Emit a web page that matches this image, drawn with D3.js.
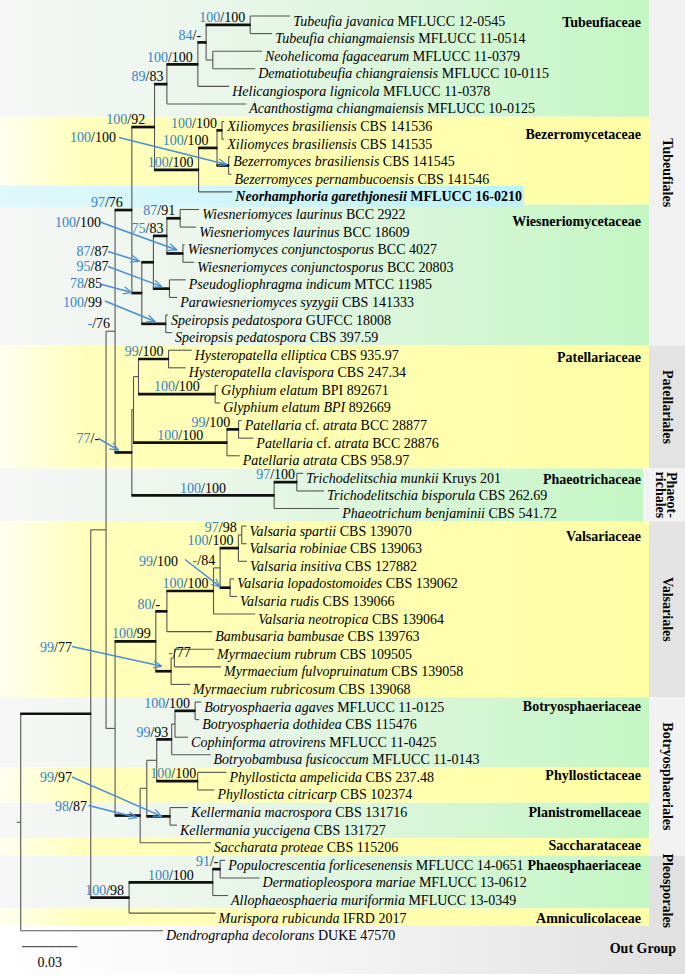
<!DOCTYPE html>
<html><head><meta charset="utf-8">
<script src="https://cdn.jsdelivr.net/npm/d3@7"></script>
<style>body{margin:0;background:#fff} svg{display:block}</style>
</head><body><svg id="c" width="685" height="977"></svg>
<script>
// ---------------- DATA ----------------
// leaf labels in tree order (text between underscores is italic)
const taxa = [
 "_Tubeufia javanica_ MFLUCC 12-0545",
 "_Tubeufia chiangmaiensis_ MFLUCC 11-0514",
 "_Neohelicoma fagacearum_ MFLUCC 11-0379",
 "_Dematiotubeufia chiangraiensis_ MFLUCC 10-0115",
 "_Helicangiospora lignicola_ MFLUCC 11-0378",
 "_Acanthostigma chiangmaiensis_ MFLUCC 10-0125",
 "_Xiliomyces brasiliensis_ CBS 141536",
 "_Xiliomyces brasiliensis_ CBS 141535",
 "_Bezerromyces brasiliensis_ CBS 141545",
 "_Bezerromyces pernambucoensis_ CBS 141546",
 "_Neorhamphoria garethjonesii_ MFLUCC 16-0210",
 "_Wiesneriomyces laurinus_ BCC 2922",
 "_Wiesneriomyces laurinus_ BCC 18609",
 "_Wiesneriomyces conjunctosporus_ BCC 4027",
 "_Wiesneriomyces conjunctosporus_ BCC 20803",
 "_Pseudogliophragma indicum_ MTCC 11985",
 "_Parawiesneriomyces syzygii_ CBS 141333",
 "_Speiropsis pedatospora_ GUFCC 18008",
 "_Speiropsis pedatospora_ CBS 397.59",
 "_Hysteropatella elliptica_ CBS 935.97",
 "_Hysteropatella clavispora_ CBS 247.34",
 "_Glyphium elatum_ BPI 892671",
 "_Glyphium elatum BPI_ 892669",
 "_Patellaria_ cf. _atrata_ BCC 28877",
 "_Patellaria_ cf. _atrata_ BCC 28876",
 "_Patellaria atrata_ CBS 958.97",
 "_Trichodelitschia munkii_ Kruys 201",
 "_Trichodelitschia bisporula_ CBS 262.69",
 "_Phaeotrichum benjaminii_ CBS 541.72",
 "_Valsaria spartii_ CBS 139070",
 "_Valsaria robiniae_ CBS 139063",
 "_Valsaria insitiva_ CBS 127882",
 "_Valsaria lopadostomoides_ CBS 139062",
 "_Valsaria rudis_ CBS 139066",
 "_Valsaria neotropica_ CBS 139064",
 "_Bambusaria bambusae_ CBS 139763",
 "_Myrmaecium rubrum_ CBS 109505",
 "_Myrmaecium fulvopruinatum_ CBS 139058",
 "_Myrmaecium rubricosum_ CBS 139068",
 "_Botryosphaeria agaves_ MFLUCC 11-0125",
 "_Botryosphaeria dothidea_ CBS 115476",
 "_Cophinforma atrovirens_ MFLUCC 11-0425",
 "_Botryobambusa fusicoccum_ MFLUCC 11-0143",
 "_Phyllosticta ampelicida_ CBS 237.48",
 "_Phyllosticta citricarp_ CBS 102374",
 "_Kellermania macrospora_ CBS 131716",
 "_Kellermania yuccigena_ CBS 131727",
 "_Saccharata proteae_ CBS 115206",
 "_Populocrescentia forlicesenensis_ MFLUCC 14-0651",
 "_Dermatiopleospora mariae_ MFLUCC 13-0612",
 "_Allophaeosphaeria muriformia_ MFLUCC 13-0349",
 "_Murispora rubicunda_ IFRD 2017",
 "_Dendrographa decolorans_ DUKE 47570"
];
const newTaxa = [11]; // new species (bold)

// tree: [id, parent, branch length (subst./site), support ML/MP, high posterior probability]
const nodes = [
 ["root","",0,"",false],
 ["ingroup","root",0.0380,"",true],
 ["N106","ingroup",0.0083,"",false],
 ["N115a","N106",0.0049,"-/76",false],
 ["T","N115a",0.0091,"97/76",true],
 ["N154","T",0.0123,"100/92",true],
 ["TU","N154",0.0067,"89/83",true],
 ["N197","TU",0.0168,"100/100",true],
 ["N206","N197",0.0045,"84/-",true],
 ["N250","N206",0.0239,"100/100",true],
 ["L1","N250",0.0217,"",false],
 ["L2","N250",0.0119,"",false],
 ["N212","N206",0.0036,"",false],
 ["L3","N212",0.0267,"",false],
 ["L4","N212",0.0230,"",false],
 ["L5","N197",0.0170,"",false],
 ["L6","TU",0.0430,"",false],
 ["Bz","N154",0.0239,"100/100",true],
 ["N216","Bz",0.0100,"100/100",true],
 ["Xil","N216",0.0027,"100/100",true],
 ["L7","Xil",0.0012,"",false],
 ["L8","Xil",0.0012,"",false],
 ["Bez","N216",0.0063,"100/100",true],
 ["L9","Bez",0.0009,"",false],
 ["L10","Bez",0.0015,"",false],
 ["L11","Bz",0.0183,"",false],
 ["W","T",0.0054,"78/85",true],
 ["N153","W",0.0063,"87/87",true],
 ["N166b","N153",0.0073,"75/83",true],
 ["N180","N166b",0.0072,"87/91",true],
 ["L12","N180",0.0103,"",false],
 ["L13","N180",0.0087,"",false],
 ["N182","N166b",0.0087,"100/100",true],
 ["L14","N182",0.0010,"",false],
 ["L15","N182",0.0061,"",false],
 ["N169","N153",0.0087,"95/87",true],
 ["L16","N169",0.0088,"",false],
 ["L17","N169",0.0042,"",false],
 ["Spe","W",0.0130,"100/99",true],
 ["L18","Spe",0.0012,"",false],
 ["L19","Spe",0.0034,"",false],
 ["PP","N115a",0.0091,"77/-",true],
 ["N133","PP",0.0009,"",false],
 ["N138","N133",0.0027,"",false],
 ["Hys","N138",0.0163,"99/100",true],
 ["L20","Hys",0.0126,"",false],
 ["L21","Hys",0.0093,"",false],
 ["Gly","N138",0.0416,"100/100",true],
 ["L22","Gly",0.0016,"",false],
 ["L23","Gly",0.0027,"",false],
 ["Pat","N133",0.0507,"100/100",true],
 ["PatCf","Pat",0.0063,"99/100",true],
 ["L24","PatCf",0.0017,"",false],
 ["L25","PatCf",0.0080,"",false],
 ["L26","Pat",0.0069,"",false],
 ["Pht","PP",0.0772,"100/100",true],
 ["Tri","Pht",0.0123,"97/100",true],
 ["L27","Tri",0.0034,"",false],
 ["L28","Tri",0.0148,"",false],
 ["L29","Pht",0.0353,"",false],
 ["N115b","N106",0.0049,"",false],
 ["V","N115b",0.0221,"100/99",true],
 ["N166c","V",0.0060,"80/-",true],
 ["N213","N166c",0.0253,"100/100",true],
 ["N220","N213",0.0036,"-/84",false],
 ["N238","N220",0.0099,"100/100",true],
 ["N241","N238",0.0018,"97/98",false],
 ["L30","N241",0.0026,"",false],
 ["L31","N241",0.0026,"",false],
 ["L32","N238",0.0047,"",false],
 ["N230","N220",0.0054,"99/100",true],
 ["L33","N230",0.0022,"",false],
 ["L34","N230",0.0038,"",false],
 ["L35","N213",0.0226,"",false],
 ["L36","N166c",0.0246,"",false],
 ["Myr","V",0.0083,"99/77",true],
 ["N174","Myr",0.0018,"-/77",false],
 ["L37","N174",0.0215,"",false],
 ["L38","N174",0.0253,"",false],
 ["L39","Myr",0.0103,"",false],
 ["B","N115b",0.0136,"98/87",true],
 ["N146","B",0.0036,"",false],
 ["N156","N146",0.0054,"",false],
 ["Bot","N156",0.0081,"99/93",true],
 ["N175","Bot",0.0018,"",false],
 ["Bdo","N175",0.0109,"100/100",true],
 ["L40","Bdo",0.0033,"",false],
 ["L41","Bdo",0.0022,"",false],
 ["L42","N175",0.0071,"",false],
 ["L43","Bot",0.0211,"",false],
 ["Phy","N156",0.0222,"100/100",true],
 ["L44","Phy",0.0156,"",false],
 ["L45","Phy",0.0091,"",false],
 ["Kel","N146",0.0126,"99/97",true],
 ["L46","Kel",0.0098,"",false],
 ["L47","Kel",0.0038,"",false],
 ["L48","B",0.0383,"",false],
 ["Ple","ingroup",0.0208,"100/98",true],
 ["Phs","Ple",0.0454,"100/100",true],
 ["N220b","Phs",0.0040,"91/-",true],
 ["L49","N220b",0.0027,"",false],
 ["L50","N220b",0.0214,"",false],
 ["L51","Phs",0.0083,"",false],
 ["L52","Ple",0.0469,"",false],
 ["L53","root",0.0772,"",false]
];

const families = ["Tubeufiaceae","Bezerromycetaceae","Wiesneriomycetaceae","Patellariaceae","Phaeotrichaceae","Valsariaceae","Botryosphaeriaceae","Phyllostictaceae","Planistromellaceae","Saccharataceae","Phaeosphaeriaceae","Amniculicolaceae"];
const familyFirst = [1,7,12,20,27,30,40,44,46,48,49,52];
const familyLast  = [6,11,19,26,29,39,43,45,47,48,51,52];

const orders = ["Tubeufiales","Patellariales","Phaeotrichales","Valsariales","Botryosphaeriales","Pleosporales"];
const orderFirst = [1,20,27,30,40,49];
const orderLast  = [19,26,29,39,48,52];
const outGroup = "Out Group";
const scaleBarValue = 0.03;

// ---------------- LAYOUT / STYLE ----------------
const FONT = "'Liberation Serif','Times New Roman',serif";
const BLUE = "#3483c8", ARROW = "#4b8fd1", LINE = "#555", THICK = "#111";
const svg = d3.select("#c");
const defs = svg.append("defs");
function grad(id, stops){
  const g = defs.append("linearGradient").attr("id",id).attr("x1",0).attr("x2",1).attr("y1",0).attr("y2",0);
  stops.forEach(([o,c]) => g.append("stop").attr("offset",o).attr("stop-color",c));
}
grad("gG",[[0,"#f6f6f6"],[0.3,"#ecf6ec"],[1,"#c4f6c4"]]);
grad("gY",[[0,"#fffff0"],[0.13,"#ffffbc"],[1,"#ffffa6"]]);
grad("gC",[[0,"#dff8fa"],[1,"#bef2f7"]]);
grad("gO",[[0,"#ffffff"],[0.5,"#f4f4f4"],[1,"#e0e0e0"]]);
defs.append("marker").attr("id","ah").attr("viewBox","0 0 10 10").attr("refX",9.5).attr("refY",5)
  .attr("markerWidth",9).attr("markerHeight",9).attr("markerUnits","userSpaceOnUse").attr("orient","auto")
  .append("path").attr("d","M0,1 L9.5,5 L0,9").attr("fill","none").attr("stroke",ARROW).attr("stroke-width",1.4);

// tree hierarchy
const table = nodes.map(([id,parent,len,support,pp]) => ({id,parent,len,support,pp}));
const root = d3.stratify().id(d=>d.id).parentId(d=>d.parent===""?null:d.parent)(table);
root.eachBefore(n => n.dist = n.parent ? n.parent.dist + n.data.len : 0);
const leaves = root.leaves();
const x = d3.scaleLinear().domain([0, scaleBarValue]).range([20.7, 76.0]);
const y = d3.scalePoint().domain(leaves.map(d=>d.id)).range([16, 930.7]);
root.eachAfter(n => {
  n.px = x(n.dist);
  n.py = n.children ? (n.children[0].py + n.children[n.children.length-1].py)/2 : y(n.id);
});
const leafY = i => y("L"+i);

// backgrounds: families
const bandTop = i => i===0 ? 0 : leafY(familyLast[i-1]) + 12.8;
const bandBot = i => leafY(familyLast[i]) + 12.8;
const bg = svg.append("g");
families.forEach((f,i) => {
  const right = f==="Phaeotrichaceae" ? 643 : 649;
  bg.append("rect").attr("x",0).attr("y",bandTop(i)).attr("width",right).attr("height",bandBot(i)-bandTop(i))
    .attr("fill", i%2===0 ? "url(#gG)" : "url(#gY)");
});
// out group band
const ogTop = leafY(familyLast[familyLast.length-1]) + 12.8;
bg.append("rect").attr("x",0).attr("y",ogTop).attr("width",685).attr("height",974-ogTop).attr("fill","url(#gO)");
// orders column
const orderFill = ["#f1f1f1","#e3e3e3","#f3f3f3","#e3e3e3","#f2f2f2","#e1e1e1"];
const ordTop = i => i===0 ? 0 : leafY(orderLast[i-1]) + 12.8;
const ordBot = i => leafY(orderLast[i]) + 12.8;
orders.forEach((o,i) => {
  const left = o==="Phaeotrichales" ? 643 : 649;
  bg.append("rect").attr("x",left).attr("y",ordTop(i)).attr("width",685-left).attr("height",ordBot(i)-ordTop(i)).attr("fill",orderFill[i]);
});

// highlight row (cyan) for the new species - width set after text measure
const hl = bg.append("g");

// tree lines
const g = svg.append("g");
const all = root.descendants();
// verticals
g.selectAll("line.v").data(all.filter(n=>n.children)).join("line")
  .attr("x1",d=>d.px).attr("x2",d=>d.px)
  .attr("y1",d=>d.children[0].py).attr("y2",d=>d.children[d.children.length-1].py)
  .attr("stroke",LINE).attr("stroke-width",1.1);
// thin horizontals
g.selectAll("line.h").data(all.filter(n=>n.parent && !n.data.pp)).join("line")
  .attr("x1",d=>d.parent.px).attr("x2",d=>d.px).attr("y1",d=>d.py).attr("y2",d=>d.py)
  .attr("stroke",LINE).attr("stroke-width",1.1);
// thick horizontals
g.append("g").selectAll("line").data(all.filter(n=>n.parent && n.data.pp)).join("line")
  .attr("x1",d=>d.parent.px-0.5).attr("x2",d=>d.px+0.5).attr("y1",d=>d.py).attr("y2",d=>d.py)
  .attr("stroke",THICK).attr("stroke-width",2.7);
// root stub
g.append("line").attr("x1",root.px-4).attr("x2",root.px).attr("y1",root.py).attr("y2",root.py).attr("stroke",LINE).attr("stroke-width",1.1);

// taxon labels
function richText(sel, s){
  s.split("_").forEach((part,i) => {
    if(!part) return;
    sel.append("tspan").attr("font-style", i%2===1 ? "italic" : "normal").text(part);
  });
}
const lab = svg.append("g").attr("font-family",FONT).attr("font-size",14).attr("fill","#000");
leaves.forEach((lf,i) => {
  const t = lab.append("text").attr("x",lf.px+3).attr("y",lf.py+9.5);
  if(newTaxa.includes(i+1)) t.attr("font-weight","bold");
  richText(t, taxa[i]);
  if(newTaxa.includes(i+1)){
    const bb = t.node().getBBox();
    hl.append("rect").attr("x",0).attr("y",lf.py-6.2).attr("width",bb.x+bb.width+2).attr("height",21).attr("fill","url(#gC)");
  }
});

// support labels
const endOffset = {N154:-9.3, T:-9, N216:-8.4, PatCf:-8.3, N166c:-6.7, TU:-3.4, N166b:-3.4, Bot:-3.4, Phy:-1.5, Tri:-1.7, N220b:-1.7};
const arrowLabels = {
  Bez:  {tx:70,  ty:141.5, ax:119, ay:137.5, dx:-2,   dy:-1},
  N182: {tx:55,  ty:227,   ax:100, ay:222,   dx:-6,   dy:-3.5},
  N153: {tx:76.5,ty:256,   ax:108, ay:251.5, dx:-14,  dy:-1},
  N169: {tx:76.5,ty:271,   ax:108, ay:266.5, dx:-7.6, dy:-2},
  W:    {tx:70,  ty:288.3, ax:100, ay:284,   dx:-10,  dy:-0.5},
  Spe:  {tx:63,  ty:306.7, ax:105, ay:301,   dx:-10.7,dy:-2.3},
  PP:   {tx:76.5,ty:443.3, ax:98.5,ay:438.5, dx:-13.4,dy:-2.3},
  N230: {tx:139, ty:566,   ax:185, ay:559.5, dx:-10,  dy:-1},
  Myr:  {tx:40,  ty:651.7, ax:72,  ay:646.5, dx:-9.3, dy:-5},
  Kel:  {tx:40,  ty:781.7, ax:72,  ay:777,   dx:-8.3, dy:0},
  B:    {tx:55,  ty:810.7, ax:88.5,ay:805.5, dx:-3.3, dy:2}
};
const special = {N174:{x:168.3, y:657, anchor:"start"}};
const sup = svg.append("g").attr("font-family",FONT).attr("font-size",14);
const arr = svg.append("g");
all.filter(n=>n.data.support).forEach(n => {
  const [a,b] = n.data.support.split("/");
  const t = sup.append("text");
  t.append("tspan").attr("fill",BLUE).text(a);
  t.append("tspan").attr("fill","#000").text("/"+b);
  const al = arrowLabels[n.id];
  if(al){
    t.attr("x",al.tx).attr("y",al.ty);
    arr.append("line").attr("x1",al.ax).attr("y1",al.ay).attr("x2",n.px+al.dx).attr("y2",n.py+al.dy)
      .attr("stroke",ARROW).attr("stroke-width",1.5).attr("marker-end","url(#ah)");
  } else if(special[n.id]){
    const s = special[n.id];
    t.attr("x",s.x).attr("y",s.y).attr("text-anchor",s.anchor);
  } else {
    const w = t.node().getComputedTextLength();
    const center = (n.parent.px + n.px)/2;
    const end = endOffset[n.id] !== undefined ? n.px + endOffset[n.id] : Math.min(center + w/2, n.px - 5);
    t.attr("x",end).attr("y",n.py-2.8).attr("text-anchor","end");
  }
});

// family labels
const famDy = [11,17.5,16.5,11.8,10.7,15,9,7.6,9.4,7.3,9.7,9.9];
const fam = svg.append("g").attr("font-family",FONT).attr("font-size",14).attr("font-weight","bold").attr("text-anchor","end");
families.forEach((f,i) => fam.append("text").attr("x",641).attr("y",leafY(familyFirst[i])+famDy[i]).text(f));

// order labels (rotated)
const ord = svg.append("g").attr("font-family",FONT).attr("font-size",14).attr("font-weight","bold").attr("text-anchor","middle");
orders.forEach((o,i) => {
  const cy = (ordTop(i)+ordBot(i))/2;
  if(o==="Phaeotrichales"){
    ord.append("text").attr("transform",`translate(667,${cy}) rotate(90)`).text("Phaeot-");
    ord.append("text").attr("transform",`translate(655.5,${cy}) rotate(90)`).text("richales");
  } else {
    ord.append("text").attr("transform",`translate(662.5,${cy}) rotate(90)`).text(o);
  }
});
ord.append("text").attr("x",676).attr("y",953).attr("text-anchor","end").text(outGroup);

// scale bar
const sbY = 946.7, sbX = 22;
svg.append("line").attr("x1",sbX).attr("x2",sbX + x(scaleBarValue)-x(0)).attr("y1",sbY).attr("y2",sbY).attr("stroke",LINE).attr("stroke-width",1.2);
svg.append("text").attr("x",sbX + (x(scaleBarValue)-x(0))/2).attr("y",967).attr("text-anchor","middle")
  .attr("font-family",FONT).attr("font-size",14).text(String(scaleBarValue));
</script>
</body></html>
